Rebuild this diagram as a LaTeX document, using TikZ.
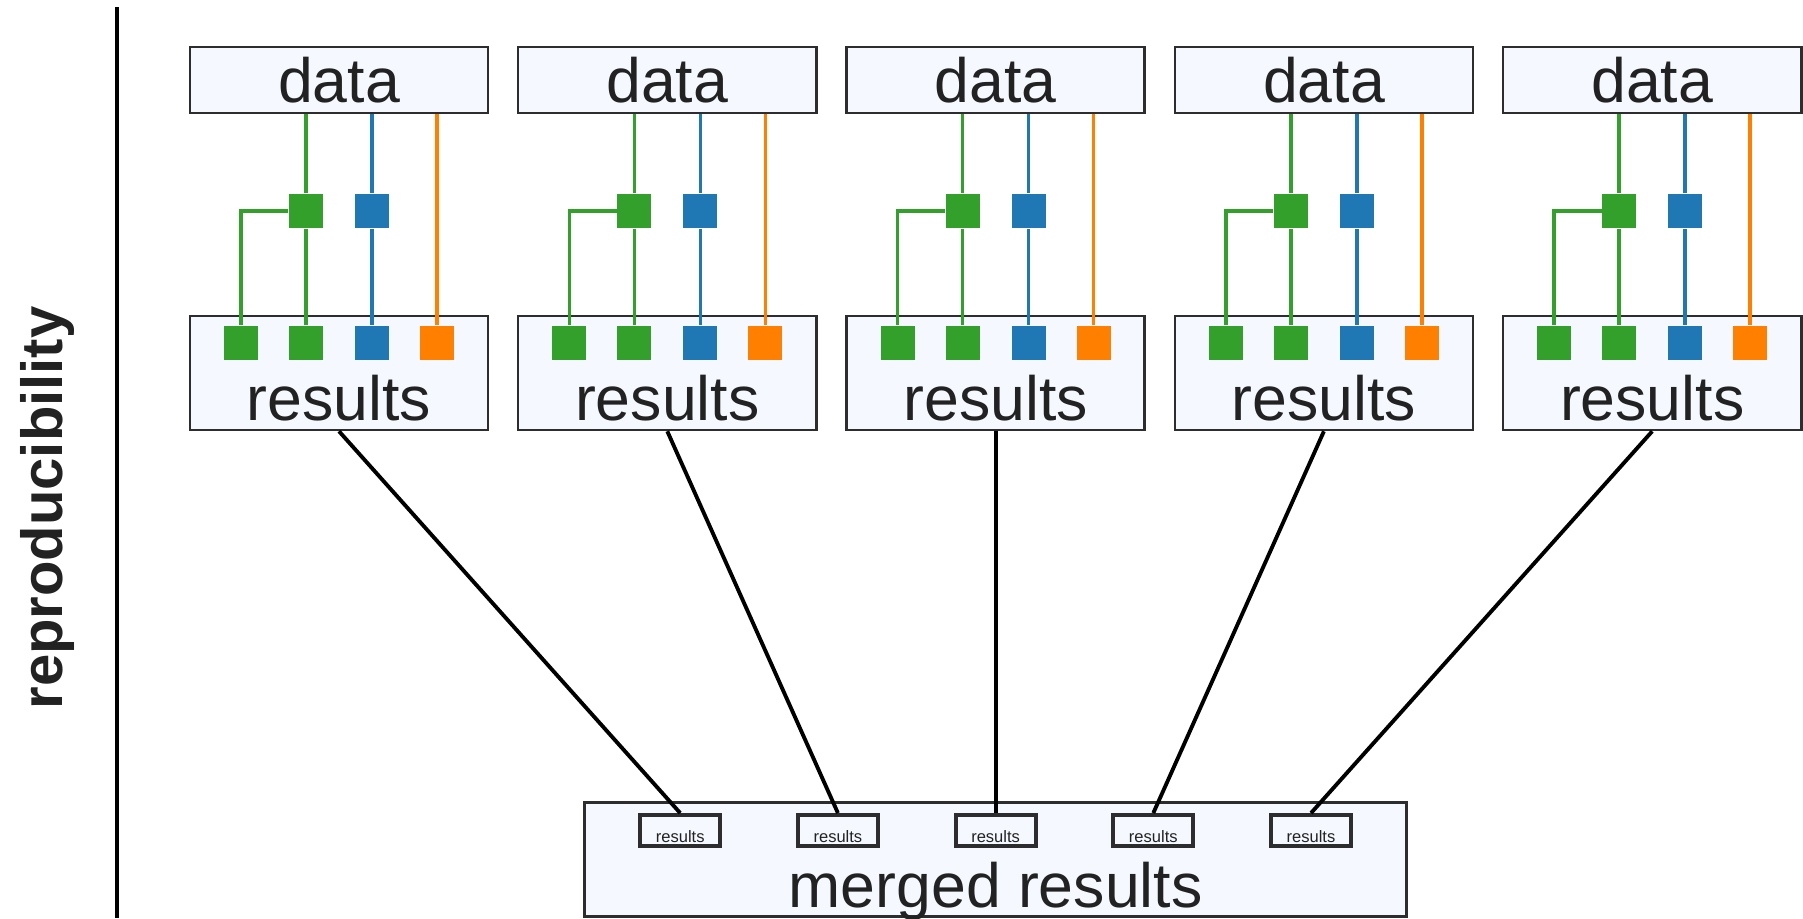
\documentclass[tikz,border=0pt]{standalone}
\usepackage{fontspec}
\setmainfont{Liberation Sans}
\usetikzlibrary{positioning}
\definecolor{boxfill}{RGB}{245,249,255}
\definecolor{boxline}{RGB}{45,45,45}
\definecolor{txt}{RGB}{34,34,34}
\definecolor{tabgreen}{RGB}{51,160,44}
\definecolor{tabblue}{RGB}{31,119,180}
\definecolor{taborange}{RGB}{255,127,0}
\tikzset{
  stage/.style={draw=boxline, line width=0.7pt, fill=boxfill, inner sep=0pt, minimum width=2.98cm},
  databox/.style={stage, minimum height=0.66cm, font=\fontsize{17.8}{20}\selectfont, text=txt},
  resultbox/.style={stage, minimum height=1.14cm},
  mergebox/.style={stage, line width=0.85pt, minimum width=8.21cm, minimum height=1.13cm},
  minibox/.style={draw=boxline, line width=1.1pt, fill=boxfill, inner sep=0pt, minimum width=0.8cm, minimum height=0.31cm},
  bigtext/.style={inner sep=0pt, anchor=base, font=\fontsize{17.8}{20}\selectfont, text=txt},
  smalltext/.style={inner sep=0pt, anchor=base, font=\fontsize{4.7}{5}\selectfont, text=txt},
  sq/.style={fill=#1, minimum size=0.34cm, inner sep=0pt},
  wire/.style={draw=#1, line width=1pt},
  link/.style={draw=black, line width=1.1pt}
}

\begin{document}
\begin{tikzpicture}[x=0.01cm, y=-0.01cm]
\useasboundingbox (0,0) rectangle (1803,918);
% axis and its label
\coordinate (axtop) at (117,7);
\coordinate (axbot) at (117,918);
\draw[line width=1.1pt] (axtop) -- (axbot);
\node[rotate=90, inner sep=0pt, text=txt, font=\fontsize{16.5}{18}\bfseries] (repro) at (47,508) {reproducibility};
% merged results
\node[mergebox] (merged) at (995.6,859.5) {};
\node[bigtext] (mergedtext) at (995.6,907) {merged results};
% one column per run
\foreach \i in {0,...,4}{
  \pgfmathsetmacro{\cx}{339+328.3*\i}
  \pgfmathsetmacro{\sx}{995.6+157.7*(\i-2)}
  \node[databox] (d\i) at (\cx,80) {data};
  \node[resultbox] (r\i) at (\cx,373) {};
  \node[bigtext] (rt\i) at (\cx,420) {results};
  \node[sq=tabgreen] (ga\i) at (\cx-98,343) {};
  \node[sq=tabgreen] (gb\i) at (\cx-33,343) {};
  \node[sq=tabblue] (bb\i) at (\cx+33,343) {};
  \node[sq=taborange] (ob\i) at (\cx+98,343) {};
  \node[sq=tabgreen] (gm\i) at (\cx-33,211) {};
  \node[sq=tabblue] (bm\i) at (\cx+33,211) {};
  \draw[wire=tabgreen] (d\i.south -| gm\i) -- (gm\i) -- (gb\i);
  \draw[wire=tabgreen] (gm\i) -| (ga\i);
  \draw[wire=tabblue] (d\i.south -| bm\i) -- (bm\i) -- (bb\i);
  \draw[wire=taborange] (d\i.south -| ob\i) -- (ob\i);
  \node[minibox] (s\i) at (\sx,830.5) {};
  \node[smalltext] (st\i) at (\sx,842) {results};
  \draw[link] (r\i.south) -- (s\i.north);
}
\end{tikzpicture}
\end{document}
